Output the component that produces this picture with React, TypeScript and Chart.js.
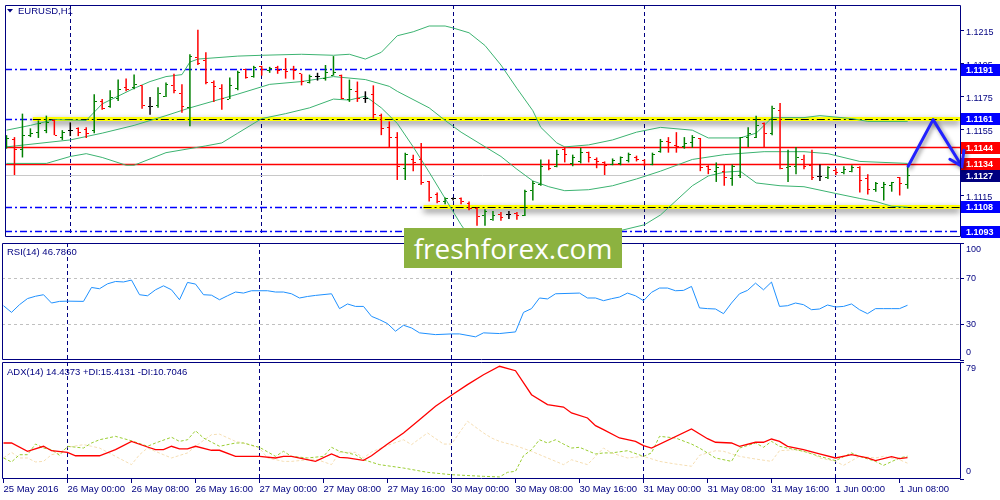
import React, { useEffect, useRef } from "react";
import { Chart, registerables } from "chart.js";

Chart.register(...registerables);

const FONT = '"Liberation Sans", Arial, sans-serif';
const NAVY = "#000080";
const UP = "#008000";
const DOWN = "#ff0000";
const DOJI = "#000000";
const BB = "#3cb371";

// ---------- data ----------
const opens = [1.11450,1.11486,1.11427,1.11515,1.11533,1.11545,1.11604,1.11503,1.11545,1.11556,
1.11551,1.11545,1.11721,1.11686,1.11739,1.11804,1.11804,1.11816,1.11686,1.11692,
1.11751,1.11816,1.11769,1.11680,1.11987,1.11969,1.11833,1.11798,1.11733,1.11798,
1.11910,1.11869,1.11928,1.11904,1.11922,1.11910,1.11910,1.11886,1.11833,1.11869,
1.11857,1.11875,1.11875,1.11733,1.11780,1.11739,1.11763,1.11633,1.11562,1.11498,
1.11315,1.11368,1.11368,1.11232,1.11156,1.11114,1.11132,1.11132,1.11103,1.11073,
1.11026,1.11003,1.11038,1.11038,1.11044,1.11032,1.11179,1.11215,1.11338,1.11327,
1.11427,1.11344,1.11356,1.11409,1.11368,1.11350,1.11338,1.11344,1.11362,1.11380,
1.11362,1.11338,1.11415,1.11474,1.11450,1.11444,1.11468,1.11492,1.11327,1.11297,
1.11297,1.11250,1.11268,1.11503,1.11503,1.11586,1.11527,1.11663,1.11321,1.11327,
1.11368,1.11333,1.11262,1.11256,1.11303,1.11291,1.11297,1.11321,1.11250,1.11185,
1.11197,1.11209,1.11256,1.11215];
const highs = [1.11515,1.11503,1.11645,1.11556,1.11604,1.11633,1.11609,1.11545,1.11592,1.11562,
1.11562,1.11763,1.11733,1.11786,1.11851,1.11857,1.11881,1.11816,1.11745,1.11804,
1.11833,1.11886,1.11822,1.12004,1.12152,1.12016,1.11845,1.11822,1.11863,1.11904,
1.11916,1.11934,1.11934,1.11928,1.11934,1.11981,1.11934,1.11886,1.11881,1.11892,
1.11939,1.11993,1.11881,1.11851,1.11839,1.11780,1.11816,1.11645,1.11598,1.11533,
1.11409,1.11397,1.11468,1.11238,1.11168,1.11138,1.11138,1.11138,1.11114,1.11079,
1.11067,1.11056,1.11050,1.11056,1.11050,1.11185,1.11238,1.11368,1.11368,1.11427,
1.11444,1.11397,1.11439,1.11415,1.11380,1.11356,1.11374,1.11386,1.11409,1.11391,
1.11368,1.11409,1.11492,1.11503,1.11533,1.11503,1.11515,1.11498,1.11333,1.11350,
1.11338,1.11338,1.11503,1.11562,1.11633,1.11592,1.11692,1.11710,1.11427,1.11444,
1.11397,1.11427,1.11338,1.11327,1.11315,1.11327,1.11333,1.11327,1.11279,1.11232,
1.11232,1.11232,1.11262,1.11338];
const lows = [1.11433,1.11274,1.11380,1.11503,1.11498,1.11527,1.11515,1.11486,1.11509,1.11509,
1.11498,1.11527,1.11668,1.11680,1.11721,1.11780,1.11792,1.11674,1.11639,1.11680,
1.11745,1.11769,1.11651,1.11568,1.11939,1.11822,1.11716,1.11668,1.11733,1.11786,
1.11857,1.11863,1.11875,1.11892,1.11886,1.11857,1.11851,1.11816,1.11828,1.11845,
1.11845,1.11875,1.11733,1.11716,1.11716,1.11710,1.11615,1.11515,1.11439,1.11244,
1.11244,1.11297,1.11215,1.11114,1.11103,1.11097,1.11120,1.11097,1.11061,1.10967,
1.10967,1.10997,1.10997,1.11008,1.11003,1.11026,1.11120,1.11209,1.11303,1.11321,
1.11350,1.11327,1.11344,1.11350,1.11315,1.11274,1.11333,1.11333,1.11350,1.11356,
1.11327,1.11333,1.11409,1.11409,1.11409,1.11433,1.11439,1.11297,1.11279,1.11232,
1.11209,1.11209,1.11256,1.11444,1.11498,1.11444,1.11515,1.11309,1.11232,1.11279,
1.11309,1.11244,1.11238,1.11250,1.11274,1.11279,1.11291,1.11168,1.11156,1.11173,
1.11120,1.11173,1.11150,1.11191];
const closes = [1.11492,1.11427,1.11515,1.11527,1.11586,1.11592,1.11515,1.11533,1.11545,1.11533,
1.11527,1.11721,1.11674,1.11745,1.11792,1.11792,1.11822,1.11692,1.11686,1.11769,
1.11822,1.11786,1.11686,1.11993,1.11951,1.11833,1.11810,1.11739,1.11816,1.11892,
1.11863,1.11922,1.11910,1.11916,1.11904,1.11898,1.11904,1.11839,1.11869,1.11869,
1.11892,1.11892,1.11739,1.11792,1.11739,1.11739,1.11639,1.11556,1.11503,1.11327,
1.11397,1.11350,1.11226,1.11138,1.11114,1.11132,1.11132,1.11114,1.11073,1.11020,
1.11056,1.11032,1.11014,1.11038,1.11026,1.11173,1.11221,1.11327,1.11315,1.11397,
1.11397,1.11380,1.11409,1.11380,1.11356,1.11333,1.11362,1.11380,1.11397,1.11368,
1.11338,1.11397,1.11474,1.11468,1.11444,1.11462,1.11498,1.11321,1.11309,1.11321,
1.11256,1.11327,1.11498,1.11527,1.11574,1.11527,1.11674,1.11315,1.11327,1.11380,
1.11327,1.11256,1.11262,1.11321,1.11291,1.11309,1.11321,1.11238,1.11185,1.11221,
1.11215,1.11226,1.11221,1.11268];

const bbUpper = [[0,1.11545],[3,1.11574],[6,1.11609],[10,1.11604],[12,1.11704],[14,1.11751],[16,1.11798],[18,1.11839],[20,1.11869],[22,1.11881],[23,1.11957],[24,1.11975],[29,1.11993],[32,1.11998],[37,1.12004],[41,1.11998],[43,1.12004],[45,1.11975],[47,1.12016],[49,1.12116],[51,1.12140],[53,1.12175],[55,1.12175],[56,1.12163],[58,1.12134],[60,1.12057],[62,1.11939],[64,1.11798],[66,1.11663],[67,1.11562],[69,1.11468],[70,1.11444],[73,1.11456],[76,1.11486],[79,1.11533],[82,1.11562],[86,1.11545],[88,1.11498],[92,1.11498],[94,1.11527],[96,1.11621],[100,1.11621],[102,1.11633],[106,1.11615],[108,1.11598],[113,1.11598]];
const bbMiddle = [[0,1.11444],[8,1.11486],[12,1.11527],[16,1.11574],[20,1.11633],[23,1.11680],[29,1.11763],[33,1.11822],[37,1.11839],[41,1.11869],[45,1.11851],[48,1.11810],[49,1.11780],[53,1.11680],[55,1.11604],[57,1.11533],[62,1.11386],[64,1.11309],[66,1.11238],[68,1.11203],[70,1.11179],[73,1.11185],[76,1.11209],[79,1.11250],[82,1.11297],[86,1.11368],[90,1.11397],[95,1.11415],[100,1.11415],[103,1.11403],[107,1.11356],[113,1.11344]];
const bbLower = [[0,1.11344],[5,1.11344],[8,1.11386],[10,1.11403],[12,1.11380],[15,1.11333],[16,1.11333],[20,1.11409],[25,1.11450],[27,1.11468],[29,1.11527],[32,1.11615],[35,1.11645],[38,1.11680],[41,1.11733],[43,1.11727],[45,1.11751],[47,1.11680],[49,1.11586],[51,1.11444],[53,1.11291],[55,1.11132],[57,1.10973],[60,1.10767],[62,1.10731],[66,1.10767],[70,1.10826],[73,1.10885],[77,1.10938],[80,1.10973],[82,1.11032],[86,1.11209],[88,1.11268],[90,1.11291],[92,1.11297],[94,1.11226],[97,1.11209],[100,1.11203],[104,1.11162],[107,1.11132],[109,1.11114],[111,1.11085],[113,1.11079]];

const rsi = [[0,46.4],[1,40.7],[2,47.3],[3,52.5],[4,54.5],[5,55.8],[6,48.7],[7,50.1],[8,50.3],[10,50.1],[11,62.0],[12,60.9],[13,65.1],[14,67.1],[15,66.7],[16,68.3],[17,55.8],[18,54.9],[19,60.0],[20,63.4],[21,60.0],[22,51.5],[23,66.3],[24,64.9],[25,55.8],[26,55.4],[27,51.5],[28,54.9],[29,58.1],[30,57.2],[31,59.2],[33,59.2],[34,58.1],[35,58.1],[36,56.6],[37,53.0],[38,54.3],[39,55.2],[41,56.6],[42,43.9],[43,47.9],[44,45.8],[45,45.8],[46,37.3],[47,34.5],[48,31.1],[49,24.6],[50,29.7],[51,27.4],[52,23.2],[54,21.7],[56,22.3],[57,22.3],[59,19.8],[60,23.2],[62,22.6],[64,24.0],[65,40.7],[66,43.9],[67,53.0],[68,52.2],[69,56.6],[72,57.2],[73,53.0],[74,53.0],[75,50.7],[76,52.4],[77,53.8],[78,57.2],[79,54.9],[80,50.7],[81,57.8],[82,61.5],[83,61.5],[84,59.2],[85,59.5],[86,62.9],[87,44.5],[88,43.9],[89,43.6],[90,39.6],[91,48.7],[92,56.6],[93,59.5],[94,65.7],[95,60.0],[96,66.6],[97,45.8],[98,46.4],[99,48.7],[100,47.3],[101,43.0],[102,43.6],[103,47.0],[104,45.3],[105,45.8],[106,47.9],[107,43.0],[108,39.6],[109,43.9],[110,43.9],[111,43.9],[112,43.9],[113,46.786]];

const adx = [[0,24.3],[1,24.3],[3,18.7],[5,22.1],[6,19.1],[8,18.0],[9,15.7],[12,15.7],[14,19.8],[16,25.4],[18,21.6],[19,19.8],[20,19.8],[21,22.1],[22,20.3],[23,20.3],[24,22.1],[26,19.4],[27,19.4],[29,15.3],[32,15.3],[34,14.2],[35,15.3],[36,15.3],[39,11.9],[41,16.9],[42,14.6],[43,14.2],[45,12.6],[46,15.7],[48,23.6],[50,31.1],[52,40.0],[54,49.1],[56,56.5],[58,63.7],[60,70.4],[62,76.1],[64,73.1],[66,56.9],[68,50.2],[70,48.6],[71,44.6],[73,41.2],[74,36.0],[75,33.3],[77,27.7],[79,25.4],[80,22.5],[81,20.9],[86,33.8],[88,27.2],[89,24.8],[91,24.3],[92,22.1],[94,24.8],[95,24.8],[96,27.0],[97,25.4],[98,22.1],[100,19.8],[102,16.9],[104,14.2],[106,16.4],[108,14.2],[109,12.4],[111,15.1],[112,13.7],[113,14.4373]];
const plusDI = [[0,14.2],[1,11.5],[2,16.4],[3,16.4],[4,23.6],[5,20.9],[6,19.8],[7,16.0],[8,22.1],[10,20.9],[11,24.3],[12,26.5],[14,28.8],[16,25.8],[18,22.1],[19,24.3],[21,28.2],[22,25.4],[23,26.5],[24,32.6],[25,27.7],[27,22.1],[29,24.3],[30,24.3],[32,21.4],[34,15.3],[35,18.7],[36,15.3],[38,14.2],[40,15.3],[41,21.4],[42,18.7],[44,16.4],[45,13.0],[47,9.7],[50,7.4],[53,4.5],[56,2.9],[60,1.8],[62,1.4],[63,4.5],[64,5.2],[65,15.7],[66,19.8],[67,26.5],[68,24.3],[69,26.5],[70,23.6],[71,20.9],[72,21.4],[74,16.9],[75,17.6],[76,17.6],[78,19.1],[80,15.3],[81,17.6],[82,28.8],[84,27.7],[86,23.6],[87,20.9],[89,14.2],[91,11.9],[92,20.9],[94,24.3],[95,21.4],[96,25.4],[97,22.1],[98,20.9],[100,18.7],[102,15.3],[104,12.4],[106,17.6],[107,15.3],[109,11.9],[110,9.2],[112,14.2],[113,15.4131]];
const minusDI = [[0,14.2],[1,18.0],[2,14.2],[3,14.2],[4,11.5],[5,11.9],[6,16.4],[7,17.6],[8,21.4],[10,23.2],[11,22.1],[12,20.9],[14,15.3],[16,9.7],[17,16.4],[18,20.9],[20,16.4],[21,14.2],[23,17.6],[24,22.1],[26,29.9],[27,30.3],[29,25.4],[30,24.3],[32,20.9],[33,14.2],[35,11.9],[36,11.9],[39,13.5],[41,9.7],[42,18.0],[44,18.0],[45,14.2],[46,18.2],[48,22.7],[50,26.5],[51,23.2],[53,31.1],[55,23.6],[56,23.6],[58,39.0],[60,31.1],[61,27.7],[62,25.4],[64,22.5],[66,18.7],[68,14.2],[70,9.7],[71,13.0],[73,9.7],[75,20.9],[76,17.6],[78,14.2],[80,15.3],[82,11.9],[84,10.1],[86,8.6],[87,16.0],[89,19.1],[90,18.7],[92,15.3],[94,13.5],[96,11.9],[97,19.1],[99,19.8],[101,17.6],[102,14.2],[104,11.9],[105,9.2],[107,15.3],[109,14.2],[110,15.3],[112,13.0],[113,10.7046]];

const timeTickIdx = [0,8,16,24,32,40,48,56,64,72,80,88,96,104,112];
const timeTickLabels = ["25 May 2016","26 May 00:00","26 May 08:00","26 May 16:00","27 May 00:00","27 May 08:00","27 May 16:00","30 May 00:00","30 May 08:00","30 May 16:00","31 May 00:00","31 May 08:00","31 May 16:00","1 Jun 00:00","1 Jun 08:00"];
const dayIdx = [8,32,56,80,104];

const priceTicks = [1.1215,1.1195,1.1175,1.1155,1.1135,1.1115,1.1095];
const blueLevels = [1.1191,1.1161,1.1108,1.1093];
const redLevels = [1.1144,1.1134];
const bidLevel = 1.1127;
const yellowLevels = [1.1161,1.1108];
const yellowStarts = [3.3,52.3];
const boxValues = [1.1191,1.1161,1.1144,1.1134,1.1127,1.1108,1.1093];
const boxKinds = ["blue","blue","red","red","bid","blue","blue"];
const arrowX = [113.06,116.19,119.8];
const arrowY = [1.11327,1.11609,1.11327];

const rsiTicks = [100,70,30,0];
const rsiLevels = [70,30];
const adxTicks = [79,0];

const X_MIN = -0.1875;
const X_MAX = 119.5625;
const P_MIN = 1.10899;
const P_MAX = 1.12302;

// ---------- helpers ----------
const pts = (arr: number[][]) => arr.map(([x, y]) => ({ x, y }));

function hline(ctx: any, py: number, x0: number, x1: number, color: string, w: number, dash: number[]) {
  const yy = Math.round(py - 0.5) + 0.5;
  ctx.save();
  ctx.strokeStyle = color;
  ctx.lineWidth = w;
  ctx.setLineDash(dash);
  ctx.beginPath();
  ctx.moveTo(x0, yy);
  ctx.lineTo(x1, yy);
  ctx.stroke();
  ctx.restore();
}

function drawDayLines(ctx: any, x: any, a: any) {
  ctx.save();
  ctx.strokeStyle = NAVY;
  ctx.lineWidth = 1;
  ctx.setLineDash([4, 3]);
  dayIdx.forEach((i) => {
    const px = Math.round(x.getPixelForValue(i) - 0.5) + 0.5;
    ctx.beginPath();
    ctx.moveTo(px, a.top);
    ctx.lineTo(px, a.bottom);
    ctx.stroke();
  });
  ctx.restore();
}

function drawBorder(ctx: any, a: any) {
  ctx.save();
  ctx.strokeStyle = NAVY;
  ctx.lineWidth = 1;
  const l = Math.floor(a.left) + 0.5, r = Math.floor(a.right) + 0.5;
  const t = Math.floor(a.top) + 0.5, b = Math.ceil(a.bottom) - 0.5;
  ctx.beginPath();
  ctx.moveTo(l, t); ctx.lineTo(r, t); ctx.lineTo(r, b); ctx.lineTo(l, b); ctx.closePath();
  ctx.stroke();
  ctx.restore();
}

function drawSideLabels(ctx: any, chart: any, values: number[]) {
  const a = chart.chartArea, y = chart.scales.y;
  ctx.save();
  ctx.fillStyle = NAVY;
  ctx.font = `9px ${FONT}`;
  ctx.textBaseline = "middle";
  ctx.textAlign = "left";
  values.forEach((v) => {
    const py = Math.max(a.top + 7, Math.min(a.bottom - 7, y.getPixelForValue(v)));
    ctx.fillText(String(v), a.right + 6, py);
  });
  ctx.restore();
}

function drawLegend(ctx: any, text: string, x: number, y: number) {
  ctx.save();
  ctx.fillStyle = NAVY;
  ctx.font = `9.5px ${FONT}`;
  ctx.textBaseline = "middle";
  ctx.textAlign = "left";
  ctx.fillText(text, x, y);
  ctx.restore();
}

function xScale(display: boolean): any {
  return {
    type: "linear",
    min: X_MIN,
    max: X_MAX,
    bounds: "data",
    offset: false,
    display,
    grid: { display, drawOnChartArea: false, drawTicks: true, tickLength: 4, color: NAVY, offset: false },
    border: { display: false },
    ticks: {
      autoSkip: false,
      maxRotation: 0,
      minRotation: 0,
      align: "start",
      padding: 1,
      color: NAVY,
      font: { family: FONT, size: 9.5 },
      callback: (v: any) => {
        const k = timeTickIdx.indexOf(Number(v));
        return k >= 0 ? timeTickLabels[k] : "";
      },
    },
    afterBuildTicks: (s: any) => {
      s.ticks = timeTickIdx.map((v) => ({ value: v }));
    },
    afterFit: (s: any) => {
      s.paddingLeft = 0;
      s.paddingRight = 0;
      if (display) s.height = 21;
    },
  };
}

function sideScale(min: number, max: number, ticks: number[], showLabels: boolean, fmt?: (v: number) => string): any {
  return {
    type: "linear",
    position: "right",
    min,
    max,
    bounds: "data",
    grid: { drawOnChartArea: false, drawTicks: true, tickLength: 4, color: NAVY },
    border: { display: false },
    ticks: {
      display: showLabels,
      padding: 2,
      labelOffset: 2.5,
      color: NAVY,
      font: { family: FONT, size: 9 },
      callback: (v: any) => (fmt ? fmt(Number(v)) : String(v)),
    },
    afterBuildTicks: (s: any) => {
      s.ticks = ticks.map((v) => ({ value: v }));
    },
    afterFit: (s: any) => {
      s.width = 40;
      s.paddingTop = 0;
      s.paddingBottom = 0;
    },
  };
}

const common: any = {
  responsive: false,
  animation: false,
  devicePixelRatio: 1,
  events: [],
  plugins: { legend: { display: false }, tooltip: { enabled: false } },
  elements: { point: { radius: 0 }, line: { tension: 0, borderWidth: 1 } },
};

function tickImg(color: string, left: boolean) {
  const c = document.createElement("canvas");
  c.width = 7;
  c.height = 1;
  const g = c.getContext("2d")!;
  g.fillStyle = color;
  g.fillRect(left ? 1 : 4, 0, 2, 1);
  return c;
}

function barColor(i: number) {
  return closes[i] > opens[i] ? UP : closes[i] < opens[i] ? DOWN : DOJI;
}

// ---------- main price panel ----------
function mainConfig(): any {
  const colors = opens.map((_, i) => barColor(i));
  const imgCache: any = {};
  const img = (c: string, left: boolean) => {
    const k = c + left;
    if (!imgCache[k]) imgCache[k] = tickImg(c, left);
    return imgCache[k];
  };
  const ARROW = 6;
  const mainPlugin = {
    id: "mainDeco",
    beforeDatasetsDraw(chart: any) {
      const { ctx, chartArea: a } = chart;
      const x = chart.scales.x, y = chart.scales.y;
      ctx.save();
      ctx.beginPath();
      ctx.rect(a.left, a.top, a.right - a.left, a.bottom - a.top);
      ctx.clip();
      drawDayLines(ctx, x, a);
      hline(ctx, y.getPixelForValue(bidLevel), a.left, a.right, "#c8c8c8", 1, []);
      blueLevels.forEach((v) => hline(ctx, y.getPixelForValue(v), a.left, a.right, "#0000ff", 1.5, [7, 3, 2, 3]));
      redLevels.forEach((v) => hline(ctx, y.getPixelForValue(v), a.left, a.right, "#ff0000", 1.5, []));
      yellowLevels.forEach((v, k) => {
        const py = Math.round(y.getPixelForValue(v));
        const x0 = x.getPixelForValue(yellowStarts[k]);
        ctx.save();
        ctx.shadowColor = "rgba(0,0,0,0.55)";
        ctx.shadowBlur = 6;
        ctx.shadowOffsetY = 3;
        ctx.fillStyle = "#ffff00";
        ctx.fillRect(x0, py - 2, a.right - x0, 4);
        ctx.restore();
        hline(ctx, py, x0, a.right, "#000000", 1, [8, 3, 2, 3]);
      });
      ctx.restore();
      // price boxes on the scale
      ctx.save();
      ctx.font = `bold 9px ${FONT}`;
      ctx.textBaseline = "middle";
      ctx.textAlign = "left";
      boxValues.forEach((v, k) => {
        const cy = Math.round(y.getPixelForValue(v));
        const kind = boxKinds[k];
        ctx.fillStyle = kind === "red" ? "#ff0000" : kind === "bid" ? "#000080" : "#0000ff";
        ctx.fillRect(a.right + 1, cy - 6, 40, 12);
        ctx.fillStyle = "#ffffff";
        ctx.fillText(v.toFixed(4), a.right + 6, cy + 0.5);
      });
      ctx.restore();
    },
    beforeDatasetDraw(chart: any, args: any) {
      const ctx = chart.ctx;
      if (args.index === 1 || args.index === 2) {
        ctx.save();
        ctx.imageSmoothingEnabled = false;
      } else if (args.index === ARROW) {
        ctx.save();
        ctx.shadowColor = "rgba(0,0,0,0.45)";
        ctx.shadowBlur = 4;
        ctx.shadowOffsetX = 2;
        ctx.shadowOffsetY = 2;
      }
    },
    afterDatasetDraw(chart: any, args: any) {
      if (args.index === 1 || args.index === 2 || args.index === ARROW) chart.ctx.restore();
    },
    afterDatasetsDraw(chart: any) {
      const { ctx } = chart;
      const x = chart.scales.x, y = chart.scales.y;
      const n = arrowX.length - 1;
      const tx = x.getPixelForValue(arrowX[n]);
      const ty = y.getPixelForValue(arrowY[n]);
      ctx.save();
      ctx.strokeStyle = "#2222ff";
      ctx.lineWidth = 3;
      ctx.lineCap = "round";
      ctx.shadowColor = "rgba(0,0,0,0.45)";
      ctx.shadowBlur = 4;
      ctx.shadowOffsetX = 2;
      ctx.shadowOffsetY = 2;
      ctx.beginPath();
      ctx.moveTo(tx - 12, ty - 7);
      ctx.lineTo(tx, ty);
      ctx.lineTo(tx + 2, ty - 16);
      ctx.stroke();
      ctx.restore();
    },
    afterDraw(chart: any) {
      const { ctx, chartArea: a } = chart;
      drawBorder(ctx, a);
      ctx.save();
      ctx.fillStyle = NAVY;
      ctx.beginPath();
      ctx.moveTo(7, 9);
      ctx.lineTo(13, 9);
      ctx.lineTo(10, 12.5);
      ctx.closePath();
      ctx.fill();
      ctx.restore();
      drawLegend(ctx, "EURUSD,H1", 18, 11);
    },
  };
  return {
    type: "line",
    data: {
      datasets: [
        {
          type: "bar",
          data: lows.map((l, i) => ({ x: i, y: [l, highs[i]] })),
          backgroundColor: colors,
          barThickness: 1.5,
          inflateAmount: 0,
          borderWidth: 0,
          order: 0,
        },
        {
          type: "scatter",
          data: opens.map((o, i) => ({ x: i, y: o })),
          pointStyle: colors.map((c) => img(c, true)),
          pointRadius: 1,
          order: 0,
        },
        {
          type: "scatter",
          data: closes.map((c, i) => ({ x: i, y: c })),
          pointStyle: colors.map((c) => img(c, false)),
          pointRadius: 1,
          order: 0,
        },
        { type: "line", data: pts(bbUpper), borderColor: BB, borderWidth: 1, pointRadius: 0, order: 1 },
        { type: "line", data: pts(bbMiddle), borderColor: BB, borderWidth: 1, pointRadius: 0, order: 1 },
        { type: "line", data: pts(bbLower), borderColor: BB, borderWidth: 1, pointRadius: 0, order: 1 },
        {
          type: "line",
          data: arrowX.map((ax, i) => ({ x: ax, y: arrowY[i] })),
          borderColor: "#2222ff",
          borderWidth: 3,
          borderJoinStyle: "round",
          borderCapStyle: "round",
          pointRadius: 0,
          clip: false,
          order: -1,
        },
      ],
    },
    options: {
      ...common,
      layout: { padding: { left: 2, top: 2, right: 0, bottom: 2 } },
      scales: {
        x: xScale(false),
        y: sideScale(P_MIN, P_MAX, priceTicks, true, (v) => v.toFixed(4)),
      },
    },
    plugins: [mainPlugin],
  };
}

// ---------- RSI panel ----------
function rsiConfig(): any {
  const rsiPlugin = {
    id: "rsiDeco",
    beforeDatasetsDraw(chart: any) {
      const { ctx, chartArea: a } = chart;
      const y = chart.scales.y;
      drawDayLines(ctx, chart.scales.x, a);
      rsiLevels.forEach((v) => hline(ctx, y.getPixelForValue(v), a.left, a.right, "#c0c0c0", 1, [3, 3]));
    },
    afterDraw(chart: any) {
      const { ctx, chartArea: a } = chart;
      drawBorder(ctx, a);
      drawSideLabels(ctx, chart, rsiTicks);
      drawLegend(ctx, "RSI(14) 46.7860", 7, a.top + 9);
    },
  };
  return {
    type: "line",
    data: {
      datasets: [{ data: pts(rsi), borderColor: "#1e90ff", borderWidth: 1, pointRadius: 0 }],
    },
    options: {
      ...common,
      layout: { padding: { left: 2, top: 3, right: 0, bottom: 1 } },
      scales: { x: xScale(false), y: sideScale(0, 100, rsiTicks, false) },
    },
    plugins: [rsiPlugin],
  };
}

// ---------- ADX panel ----------
function adxConfig(): any {
  const adxPlugin = {
    id: "adxDeco",
    beforeDatasetsDraw(chart: any) {
      drawDayLines(chart.ctx, chart.scales.x, chart.chartArea);
    },
    afterDraw(chart: any) {
      const { ctx, chartArea: a } = chart;
      drawBorder(ctx, a);
      drawSideLabels(ctx, chart, adxTicks);
      drawLegend(ctx, "ADX(14) 14.4373 +DI:15.4131 -DI:10.7046", 7, a.top + 10);
    },
  };
  return {
    type: "line",
    data: {
      datasets: [
        { data: pts(adx), borderColor: "#ff0000", borderWidth: 1.3, pointRadius: 0, order: 0 },
        { data: pts(plusDI), borderColor: "#9acd32", borderWidth: 1, borderDash: [3, 2], pointRadius: 0, order: 1 },
        { data: pts(minusDI), borderColor: "#f5deb3", borderWidth: 1, borderDash: [3, 2], pointRadius: 0, order: 2 },
      ],
    },
    options: {
      ...common,
      layout: { padding: { left: 2, top: 2, right: 0, bottom: 0 } },
      scales: { x: xScale(true), y: sideScale(0, 79, adxTicks, false) },
    },
    plugins: [adxPlugin],
  };
}

export default function App() {
  const mainRef = useRef<HTMLCanvasElement>(null);
  const rsiRef = useRef<HTMLCanvasElement>(null);
  const adxRef = useRef<HTMLCanvasElement>(null);

  useEffect(() => {
    Chart.defaults.font.family = FONT;
    const charts = [
      new Chart(mainRef.current as any, mainConfig()),
      new Chart(rsiRef.current as any, rsiConfig()),
      new Chart(adxRef.current as any, adxConfig()),
    ];
    return () => charts.forEach((c) => c.destroy());
  }, []);

  const cv = (top: number, h: number): any => ({ position: "absolute", left: 0, top, width: 1000, height: h });

  return (
    <div style={{ position: "fixed", left: 0, top: 0, width: 1000, height: 500, background: "#ffffff", overflow: "hidden" }}>
      <canvas ref={mainRef} width={1000} height={242} style={cv(0, 242)} />
      <canvas ref={rsiRef} width={1000} height={121} style={cv(240, 121)} />
      <canvas ref={adxRef} width={1000} height={140} style={cv(360, 140)} />
      <div
        style={{
          position: "absolute",
          left: 404,
          top: 228,
          width: 218,
          height: 40,
          background: "#8cb240",
          color: "#ffffff",
          fontFamily: '"Open Sans", sans-serif',
          fontSize: 28,
          lineHeight: "40px",
          textAlign: "center",
        }}
      >
        freshforex.com
      </div>
    </div>
  );
}
